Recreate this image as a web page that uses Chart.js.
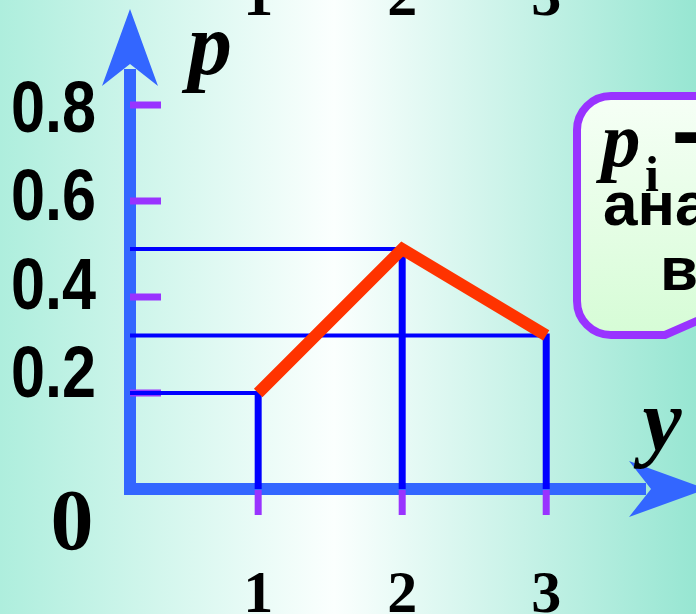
<!DOCTYPE html>
<html>
<head>
<meta charset="utf-8">
<script src="https://cdn.jsdelivr.net/npm/chart.js@4.4.1/dist/chart.umd.min.js"></script>
<style>
  html, body { margin: 0; padding: 0; background: #ffffff; }
  canvas { display: block; }
</style>
</head>
<body>
<canvas id="polygonChart" width="696" height="614"></canvas>
<script>
// values of the random variable y and their probabilities p
const yValues = [1, 2, 3];
const pValues = [0.2, 0.5, 0.32];
const pTicks = [0.2, 0.4, 0.6, 0.8];
const pTickLabels = ['0.2', '0.4', '0.6', '0.8'];
const topLabels = ['1', '2', '3'];

const AXIS = '#3366ff';
const TICK = '#9933ff';
const LINE = '#0000ff';
const RED = '#ff3300';

// fondo, ejes y lineas auxiliares
const axesPlugin = {
    id: 'axesPlugin',
    beforeDraw(chart) {
        const ctx = chart.ctx;
        const w = chart.width, h = chart.height;
        const g = ctx.createLinearGradient(0, 0, w, 0);
        g.addColorStop(0, '#aeeedd');
        g.addColorStop(0.48, '#fbfffe');
        g.addColorStop(1, '#97e6d2');
        ctx.save();
        ctx.fillStyle = g;
        ctx.fillRect(0, 0, w, h);
        ctx.restore();
    },
    beforeDatasetsDraw(chart) {
        const ctx = chart.ctx;
        const xs = chart.scales.x, ys = chart.scales.y;
        const x0 = xs.getPixelForValue(xs.min);
        const y0 = ys.getPixelForValue(0);
        const yTop = ys.getPixelForValue(ys.max);
        const xEnd = chart.chartArea.right + 10;
        ctx.save();

        // ejes
        ctx.strokeStyle = AXIS;
        ctx.lineWidth = 12;
        ctx.beginPath();
        ctx.moveTo(x0, y0 + 6);
        ctx.lineTo(x0, yTop + 60);
        ctx.moveTo(x0 - 6, y0);
        ctx.lineTo(xEnd - 60, y0);
        ctx.stroke();
        ctx.fillStyle = AXIS;
        ctx.beginPath();
        ctx.moveTo(x0, yTop);
        ctx.lineTo(x0 + 28, yTop + 77);
        ctx.lineTo(x0, yTop + 55);
        ctx.lineTo(x0 - 28, yTop + 77);
        ctx.closePath();
        ctx.fill();
        ctx.beginPath();
        ctx.moveTo(xEnd, y0);
        ctx.lineTo(xEnd - 77, y0 - 28);
        ctx.lineTo(xEnd - 55, y0);
        ctx.lineTo(xEnd - 77, y0 + 28);
        ctx.closePath();
        ctx.fill();

        // marcas del eje p
        ctx.strokeStyle = TICK;
        ctx.lineWidth = 7;
        ctx.beginPath();
        pTicks.forEach(v => {
            const py = ys.getPixelForValue(v);
            ctx.moveTo(x0, py);
            ctx.lineTo(x0 + 31, py);
        });
        ctx.stroke();

        // lineas horizontales y verticales de cada valor
        ctx.strokeStyle = LINE;
        yValues.forEach((v, i) => {
            const px = xs.getPixelForValue(v);
            const py = ys.getPixelForValue(pValues[i]);
            ctx.lineWidth = 4;
            ctx.beginPath();
            ctx.moveTo(x0, py);
            ctx.lineTo(px, py);
            ctx.stroke();
            ctx.lineWidth = 7;
            ctx.beginPath();
            ctx.moveTo(px, py - 2);
            ctx.lineTo(px, y0);
            ctx.stroke();
        });

        // marcas del eje y
        ctx.strokeStyle = TICK;
        ctx.lineWidth = 7;
        ctx.beginPath();
        yValues.forEach(v => {
            const px = xs.getPixelForValue(v);
            ctx.moveTo(px, y0 + 1);
            ctx.lineTo(px, y0 + 26);
        });
        ctx.stroke();
        ctx.restore();
    },
    afterDraw(chart) {
        const ctx = chart.ctx;
        const xs = chart.scales.x, ys = chart.scales.y;
        ctx.save();
        ctx.fillStyle = '#000000';

        // etiquetas del eje p (letra estrecha)
        ctx.font = 'bold 72px "Liberation Sans", Arial, sans-serif';
        ctx.textBaseline = 'alphabetic';
        ctx.textAlign = 'left';
        pTicks.forEach((v, i) => {
            // the labels sit a bit above their ticks in the original
            const py = ys.getPixelForValue(0.92 * v + 0.062) + 26;
            ctx.save();
            ctx.translate(11, py);
            ctx.scale(0.85, 1);
            ctx.fillText(pTickLabels[i], 0, 0);
            ctx.restore();
        });

        ctx.textAlign = 'center';
        ctx.font = 'bold 86px "Liberation Serif", "Times New Roman", serif';
        ctx.fillText('0', 72, 549);

        ctx.font = 'bold 60px "Liberation Serif", "Times New Roman", serif';
        yValues.forEach((v, i) => {
            const px = xs.getPixelForValue(v);
            ctx.fillText(String(v), px, 612);
            ctx.fillText(topLabels[i], px, 15);
        });

        ctx.font = 'italic bold 88px "Liberation Serif", "Times New Roman", serif';
        ctx.fillText('p', 210, 74);
        ctx.fillText('y', 662, 450);

        // cuadro de texto
        const left = 577, top = 96, bottom = 335, r = 34;
        const bg = ctx.createLinearGradient(0, top, 0, bottom);
        bg.addColorStop(0, '#f6fff6');
        bg.addColorStop(1, '#d6fcd6');
        ctx.beginPath();
        ctx.moveTo(720, top);
        ctx.lineTo(left + r, top);
        ctx.arcTo(left, top, left, top + r, r);
        ctx.lineTo(left, bottom - r);
        ctx.arcTo(left, bottom, left + r, bottom, r);
        ctx.lineTo(665, bottom);
        ctx.lineTo(720, 311);
        ctx.closePath();
        ctx.fillStyle = bg;
        ctx.fill();
        ctx.strokeStyle = TICK;
        ctx.lineWidth = 8;
        ctx.stroke();

        ctx.fillStyle = '#000000';
        ctx.textAlign = 'center';
        ctx.font = 'italic bold 78px "Liberation Serif", "Times New Roman", serif';
        ctx.fillText('p', 621, 166);
        ctx.font = 'bold 50px "Liberation Serif", "Times New Roman", serif';
        ctx.fillText('i', 652, 191);
        ctx.textAlign = 'left';
        ctx.font = 'bold 110px "Liberation Sans", Arial, sans-serif';
        ctx.fillText('–', 672, 167);
        ctx.font = 'bold 62px "Liberation Sans", Arial, sans-serif';
        ctx.fillText('ана', 603, 225);
        ctx.fillText('в', 660, 290);
        ctx.restore();
    }
};

const ctx = document.getElementById('polygonChart').getContext('2d');
const polygonChart = new Chart(ctx, {
    type: 'line',
    data: {
        datasets: [{
            label: 'p',
            data: yValues.map((v, i) => ({ x: v, y: pValues[i] })),
            borderColor: RED,
            borderWidth: 12,
            borderCapStyle: 'butt',
            borderJoinStyle: 'miter',
            pointRadius: 0,
            fill: false,
            tension: 0
        }]
    },
    options: {
        responsive: false,
        animation: false,
        devicePixelRatio: 1,
        layout: { padding: { left: 130, right: 0, top: 9, bottom: 125 } },
        scales: {
            x: { type: 'linear', min: 0.11, max: 4.04, display: false },
            y: { type: 'linear', min: 0, max: 1, display: false }
        },
        plugins: {
            legend: { display: false },
            tooltip: { enabled: false }
        },
        events: []
    },
    plugins: [axesPlugin]
});
</script>
</body>
</html>
